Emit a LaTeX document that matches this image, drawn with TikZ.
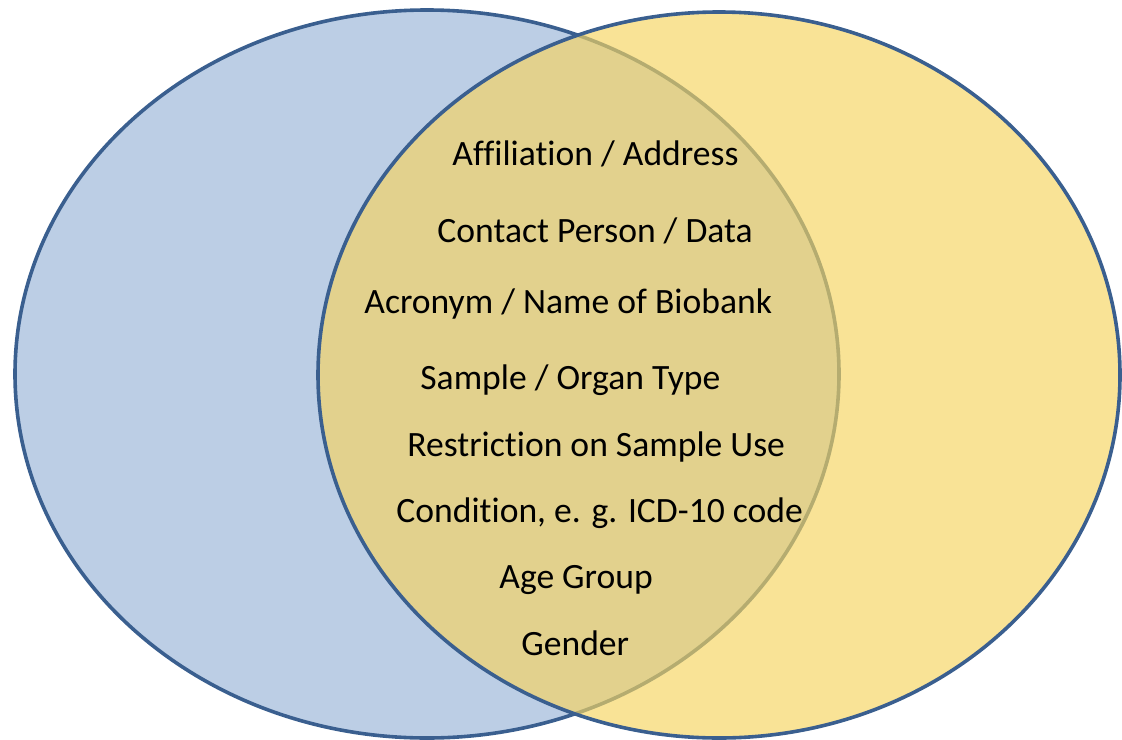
\documentclass[tikz,border=0pt]{standalone}
\usepackage{fontspec}
\setmainfont[Ligatures=NoCommon]{Carlito}
\definecolor{rimblue}{RGB}{58,95,143}
\definecolor{bankblue}{RGB}{188,206,229}
\definecolor{bankyellow}{RGB}{246,212,96}
\tikzset{item/.style={anchor=base west,inner sep=0pt,font=\fontsize{17.8}{20}\selectfont}}

\begin{document}
\begin{tikzpicture}[x=0.5pt,y=-0.5pt]
        \useasboundingbox (0,0) rectangle (1122,739);
        \draw[rimblue,line width=1.8pt,fill=bankblue] (427,374) ellipse [x radius=412, y radius=364];
        \draw[rimblue,line width=1.8pt,fill=bankyellow,fill opacity=0.66] (719,375) ellipse [x radius=401, y radius=363];
        \node[item] (affil) at (452,165) {Affiliation / Address};
        \node[item] (contact) at (437,242) {Contact Person / Data};
        \node[item] (acronym) at (364,313) {Acronym / Name of Biobank};
        \node[item] (sample) at (420,389) {Sample / Organ Type};
        \node[item] (restrict) at (407,456) {Restriction on Sample Use};
        \node[item] (cond) at (396,522) {Condition, e. g. ICD-10 code};
        \node[item] (age) at (499,588) {Age Group};
        \node[item] (gender) at (521,655) {Gender};
    \end{tikzpicture}
\end{document}
